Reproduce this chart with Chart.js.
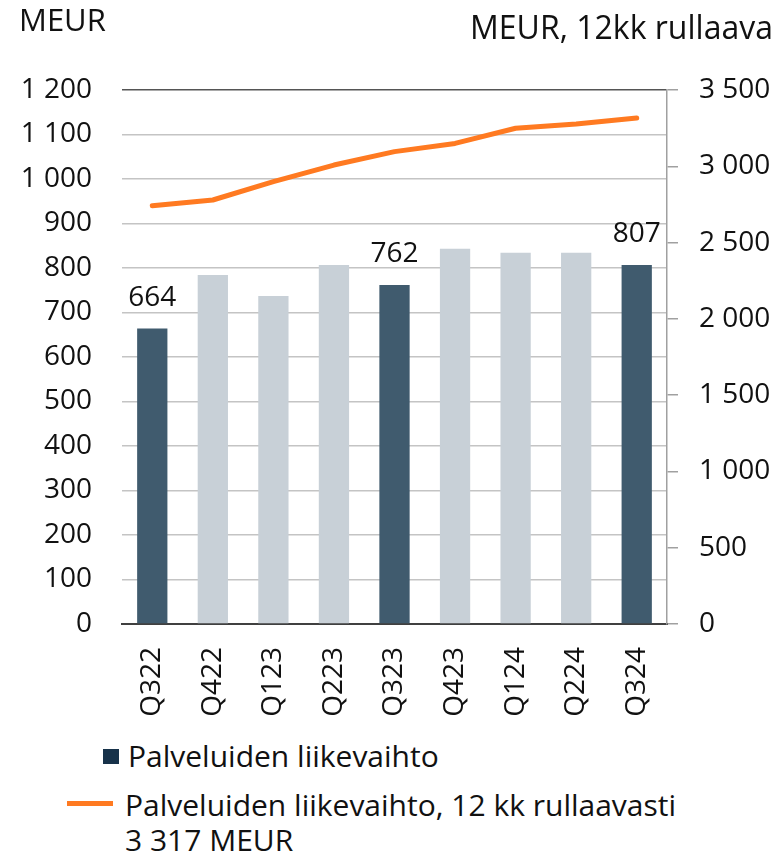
<!DOCTYPE html>
<html>
<head>
<meta charset="utf-8">
<script src="https://cdn.jsdelivr.net/npm/chart.js@4.4.1/dist/chart.umd.min.js"></script>
<style>
  html, body { margin: 0; padding: 0; background: #fff; }
  body { width: 780px; height: 854px; position: relative; overflow: hidden; font-family: "Open Sans", sans-serif; color: #111; }
  #wrap { position: absolute; left: 0; top: 0; width: 780px; height: 730px; }
  .title { position: absolute; font-size: 31px; line-height: 31px; white-space: nowrap; }
  .legend { position: absolute; font-size: 30px; line-height: 35px; white-space: nowrap; }
  .sq { position: absolute; width: 16px; height: 15px; background: #17324a; }
  .ln { position: absolute; width: 46px; height: 5px; background: #ff7a21; }
</style>
</head>
<body>
<div id="wrap"><canvas id="chart" width="780" height="730"></canvas></div>
<div class="title" style="left:19px; top:4px;">MEUR</div>
<div class="title" style="left:470px; top:11px; font-size:32px; line-height:32px;">MEUR, 12kk rullaava</div>

<div class="sq" style="left:103px; top:749px;"></div>
<div class="legend" style="left:128px; top:738px;">Palveluiden liikevaihto</div>
<div class="ln" style="left:67px; top:801px;"></div>
<div class="legend" style="left:125px; top:787px;">Palveluiden liikevaihto, 12 kk rullaavasti<br>3 317 MEUR</div>

<script>
// --- data ---
const quarters = ['Q322', 'Q422', 'Q123', 'Q223', 'Q323', 'Q423', 'Q124', 'Q224', 'Q324'];
const serviceRevenue = [664, 784, 737, 807, 762, 843, 834, 834, 807];
const rolling12m = [2742, 2779, 2899, 3008, 3096, 3150, 3249, 3277, 3317];
const labelledBars = [0, 4, 8];
const leftTicks = [0, 100, 200, 300, 400, 500, 600, 700, 800, 900, 1000, 1100, 1200];
const rightTicks = [0, 500, 1000, 1500, 2000, 2500, 3000, 3500];

const DARK = '#405b6e';
const LIGHT = '#c8d0d7';
const FONT = { family: '"Open Sans", sans-serif', size: 28 };

// "1 200" style numbers
function fmt(v) {
    return String(v).replace(/\B(?=(\d{3})+(?!\d))/g, ' ');
}

// value labels over the Q3 bars
const barLabels = {
    id: 'barLabels',
    afterDatasetsDraw(chart) {
        const ctx = chart.ctx;
        const meta = chart.getDatasetMeta(1);
        ctx.save();
        ctx.font = '28px "Open Sans", sans-serif';
        ctx.fillStyle = '#111';
        ctx.textAlign = 'center';
        ctx.textBaseline = 'alphabetic';
        labelledBars.forEach(i => {
            const bar = meta.data[i];
            ctx.fillText(fmt(serviceRevenue[i]), bar.x, bar.y - 23);
        });
        ctx.restore();
    }
};

new Chart(document.getElementById('chart'), {
    data: {
        labels: quarters,
        datasets: [{
            type: 'line',
            label: 'Palveluiden liikevaihto, 12 kk rullaavasti',
            data: rolling12m,
            yAxisID: 'y1',
            borderColor: '#ff7a21',
            borderWidth: 5,
            borderCapStyle: 'round',
            borderJoinStyle: 'round',
            pointRadius: 0,
            tension: 0,
            order: 0
        }, {
            type: 'bar',
            label: 'Palveluiden liikevaihto',
            data: serviceRevenue,
            yAxisID: 'y',
            backgroundColor: quarters.map(q => q.startsWith('Q3') ? DARK : LIGHT),
            categoryPercentage: 1,
            barPercentage: 0.5,
            order: 1
        }]
    },
    options: {
        responsive: false,
        animation: false,
        layout: { padding: { top: 90, left: 0, right: 0, bottom: 0 } },
        plugins: { legend: { display: false }, tooltip: { enabled: false } },
        scales: {
            x: {
                offset: true,
                grid: { display: false, drawTicks: false },
                border: { display: true, color: '#404040', width: 2 },
                ticks: { color: '#111', font: FONT, minRotation: 90, maxRotation: 90, padding: 23, autoSkip: false },
                afterFit(s) { s.height = 106; }
            },
            y: {
                position: 'left',
                min: 0, max: 1200,
                afterBuildTicks(s) { s.ticks = leftTicks.map(v => ({ value: v })); },
                grid: {
                    drawTicks: false,
                    color: c => c.tick && c.tick.value === 1200 ? '#555' : '#c4c4c4',
                    lineWidth: 1.5
                },
                border: { display: false },
                ticks: { color: '#111', font: FONT, padding: 30, callback: v => fmt(v) },
                afterFit(s) { s.width = 122; }
            },
            y1: {
                position: 'right',
                min: 0, max: 3500,
                afterBuildTicks(s) { s.ticks = rightTicks.map(v => ({ value: v })); },
                grid: { drawOnChartArea: false, drawTicks: true, tickLength: 11, color: '#a0a0a0', lineWidth: 1.5 },
                border: { display: true, color: '#a0a0a0', width: 1.5 },
                ticks: { color: '#111', font: FONT, padding: 21, callback: v => fmt(v) },
                afterFit(s) { s.width = 113; }
            }
        }
    },
    plugins: [barLabels]
});
</script>
</body>
</html>
